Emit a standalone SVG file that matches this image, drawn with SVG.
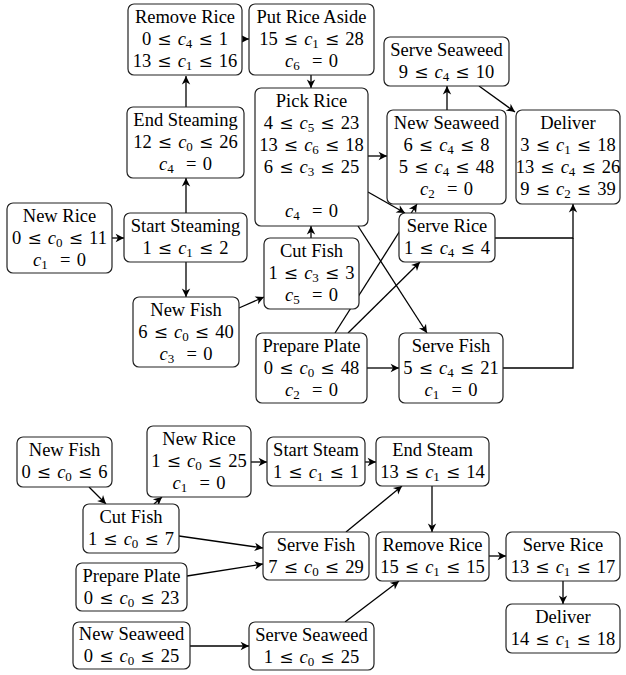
<svg xmlns="http://www.w3.org/2000/svg" width="626" height="675" viewBox="0 0 626 675">
<style>
.b{fill:#fff;stroke:#222;stroke-width:1.2}
.t{font-family:'Liberation Serif','Times New Roman',serif;font-size:18.5px;text-anchor:middle;fill:#000}
.m{word-spacing:1.5px}
.i{font-style:italic}
.s{font-size:13px}
.le{font-family:'DejaVu Serif',serif;font-size:17px}
.c{stroke:#000;stroke-width:1.3;fill:none}
</style>
<defs>
<marker id="a" markerUnits="userSpaceOnUse" markerWidth="12" markerHeight="12" viewBox="-8 -5 10 10" refX="0" refY="0" orient="auto">
<path d="M0,0 L-7,-3.5 L-5,0 L-7,3.5 Z" fill="#000"/>
</marker>
</defs>
<rect width="626" height="675" fill="#fff"/>

<g id="connectors">
<path class="c" d="M186,107 L186,76" marker-end="url(#a)"/>
<path class="c" d="M242,39 L249,39" marker-end="url(#a)"/>
<path class="c" d="M311,75 L311,88" marker-end="url(#a)"/>
<path class="c" d="M186,213 L186,178" marker-end="url(#a)"/>
<path class="c" d="M112,238 L124,238" marker-end="url(#a)"/>
<path class="c" d="M186,262 L186,297" marker-end="url(#a)"/>
<path class="c" d="M239,308 L264,297" marker-end="url(#a)"/>
<path class="c" d="M311,238 L311,226" marker-end="url(#a)"/>
<path class="c" d="M368,156 L387,156" marker-end="url(#a)"/>
<path class="c" d="M368,192 L405,213" marker-end="url(#a)"/>
<path class="c" d="M447,110 L447,86" marker-end="url(#a)"/>
<path class="c" d="M479,86 L515,112" marker-end="url(#a)"/>
<path class="c" d="M358,226 L427,333" marker-end="url(#a)"/>
<path class="c" d="M335,333 L417,204" marker-end="url(#a)"/>
<path class="c" d="M348,333 L420,262" marker-end="url(#a)"/>
<path class="c" d="M367,368 L399,368" marker-end="url(#a)"/>
<path class="c" d="M495,238 L573,238 L573,204" marker-end="url(#a)"/>
<path class="c" d="M503,368 L573,368 L573,238"/>

<path class="c" d="M89,487 L106,504" marker-end="url(#a)"/>
<path class="c" d="M154,504 L162,497" marker-end="url(#a)"/>
<path class="c" d="M251,462 L267,462" marker-end="url(#a)"/>
<path class="c" d="M365,462 L376,462" marker-end="url(#a)"/>
<path class="c" d="M179,536 L263,548" marker-end="url(#a)"/>
<path class="c" d="M187,576 L263,564" marker-end="url(#a)"/>
<path class="c" d="M346,532 L402,486" marker-end="url(#a)"/>
<path class="c" d="M432,486 L432,532" marker-end="url(#a)"/>
<path class="c" d="M190,646 L249,646" marker-end="url(#a)"/>
<path class="c" d="M345,622 L399,581" marker-end="url(#a)"/>
<path class="c" d="M489,556 L506,556" marker-end="url(#a)"/>
<path class="c" d="M563,581 L563,604" marker-end="url(#a)"/>
</g>

<g id="nodes">
<g id="t_remove_rice">
<rect class="b" x="128" y="4" width="114" height="71" rx="6"/>
<text class="t" x="185" y="23">Remove Rice</text>
<text class="t m" x="185" y="45">0 <tspan class="le">≤</tspan> <tspan class="i">c</tspan><tspan class="s" dy="3">4</tspan><tspan dy="-3"> <tspan class="le">≤</tspan> 1</tspan></text>
<text class="t m" x="185" y="67">13 <tspan class="le">≤</tspan> <tspan class="i">c</tspan><tspan class="s" dy="3">1</tspan><tspan dy="-3"> <tspan class="le">≤</tspan> 16</tspan></text>
</g>

<g id="t_put_rice_aside">
<rect class="b" x="249" y="4" width="125" height="71" rx="6"/>
<text class="t" x="311.5" y="23">Put Rice Aside</text>
<text class="t m" x="311.5" y="45">15 <tspan class="le">≤</tspan> <tspan class="i">c</tspan><tspan class="s" dy="3">1</tspan><tspan dy="-3"> <tspan class="le">≤</tspan> 28</tspan></text>
<text class="t m" x="311.5" y="67"><tspan class="i">c</tspan><tspan class="s" dy="3">6</tspan><tspan dy="-3"> &#160;= 0</tspan></text>
</g>

<g id="t_end_steaming">
<rect class="b" x="127" y="107" width="117" height="71" rx="6"/>
<text class="t" x="185.5" y="126">End Steaming</text>
<text class="t m" x="185.5" y="148">12 <tspan class="le">≤</tspan> <tspan class="i">c</tspan><tspan class="s" dy="3">0</tspan><tspan dy="-3"> <tspan class="le">≤</tspan> 26</tspan></text>
<text class="t m" x="185.5" y="170"><tspan class="i">c</tspan><tspan class="s" dy="3">4</tspan><tspan dy="-3"> &#160;= 0</tspan></text>
</g>

<g id="t_pick_rice">
<rect class="b" x="255" y="88" width="113" height="138" rx="6"/>
<text class="t" x="311.5" y="107">Pick Rice</text>
<text class="t m" x="311.5" y="129">4 <tspan class="le">≤</tspan> <tspan class="i">c</tspan><tspan class="s" dy="3">5</tspan><tspan dy="-3"> <tspan class="le">≤</tspan> 23</tspan></text>
<text class="t m" x="311.5" y="151">13 <tspan class="le">≤</tspan> <tspan class="i">c</tspan><tspan class="s" dy="3">6</tspan><tspan dy="-3"> <tspan class="le">≤</tspan> 18</tspan></text>
<text class="t m" x="311.5" y="173">6 <tspan class="le">≤</tspan> <tspan class="i">c</tspan><tspan class="s" dy="3">3</tspan><tspan dy="-3"> <tspan class="le">≤</tspan> 25</tspan></text>
<text class="t m" x="311.5" y="217"><tspan class="i">c</tspan><tspan class="s" dy="3">4</tspan><tspan dy="-3"> &#160;= 0</tspan></text>
</g>

<g id="t_serve_seaweed">
<rect class="b" x="384" y="37" width="125" height="49" rx="6"/>
<text class="t" x="446.5" y="56">Serve Seaweed</text>
<text class="t m" x="446.5" y="78">9 <tspan class="le">≤</tspan> <tspan class="i">c</tspan><tspan class="s" dy="3">4</tspan><tspan dy="-3"> <tspan class="le">≤</tspan> 10</tspan></text>
</g>

<g id="t_new_seaweed">
<rect class="b" x="387" y="110" width="119" height="94" rx="6"/>
<text class="t" x="446.5" y="129">New Seaweed</text>
<text class="t m" x="446.5" y="151">6 <tspan class="le">≤</tspan> <tspan class="i">c</tspan><tspan class="s" dy="3">4</tspan><tspan dy="-3"> <tspan class="le">≤</tspan> 8</tspan></text>
<text class="t m" x="446.5" y="173">5 <tspan class="le">≤</tspan> <tspan class="i">c</tspan><tspan class="s" dy="3">4</tspan><tspan dy="-3"> <tspan class="le">≤</tspan> 48</tspan></text>
<text class="t m" x="446.5" y="195"><tspan class="i">c</tspan><tspan class="s" dy="3">2</tspan><tspan dy="-3"> &#160;= 0</tspan></text>
</g>

<g id="t_deliver">
<rect class="b" x="516" y="110" width="104" height="94" rx="6"/>
<text class="t" x="568" y="129">Deliver</text>
<text class="t m" x="568" y="151">3 <tspan class="le">≤</tspan> <tspan class="i">c</tspan><tspan class="s" dy="3">1</tspan><tspan dy="-3"> <tspan class="le">≤</tspan> 18</tspan></text>
<text class="t m" x="568" y="173">13 <tspan class="le">≤</tspan> <tspan class="i">c</tspan><tspan class="s" dy="3">4</tspan><tspan dy="-3"> <tspan class="le">≤</tspan> 26</tspan></text>
<text class="t m" x="568" y="195">9 <tspan class="le">≤</tspan> <tspan class="i">c</tspan><tspan class="s" dy="3">2</tspan><tspan dy="-3"> <tspan class="le">≤</tspan> 39</tspan></text>
</g>

<g id="t_new_rice">
<rect class="b" x="7" y="203" width="105" height="70" rx="6"/>
<text class="t" x="59.5" y="222">New Rice</text>
<text class="t m" x="59.5" y="244">0 <tspan class="le">≤</tspan> <tspan class="i">c</tspan><tspan class="s" dy="3">0</tspan><tspan dy="-3"> <tspan class="le">≤</tspan> 11</tspan></text>
<text class="t m" x="59.5" y="266"><tspan class="i">c</tspan><tspan class="s" dy="3">1</tspan><tspan dy="-3"> &#160;= 0</tspan></text>
</g>

<g id="t_start_steaming">
<rect class="b" x="124" y="213" width="123" height="49" rx="6"/>
<text class="t" x="185.5" y="232">Start Steaming</text>
<text class="t m" x="185.5" y="254">1 <tspan class="le">≤</tspan> <tspan class="i">c</tspan><tspan class="s" dy="3">1</tspan><tspan dy="-3"> <tspan class="le">≤</tspan> 2</tspan></text>
</g>

<g id="t_new_fish">
<rect class="b" x="133" y="297" width="106" height="70" rx="6"/>
<text class="t" x="186" y="316">New Fish</text>
<text class="t m" x="186" y="338">6 <tspan class="le">≤</tspan> <tspan class="i">c</tspan><tspan class="s" dy="3">0</tspan><tspan dy="-3"> <tspan class="le">≤</tspan> 40</tspan></text>
<text class="t m" x="186" y="360"><tspan class="i">c</tspan><tspan class="s" dy="3">3</tspan><tspan dy="-3"> &#160;= 0</tspan></text>
</g>

<g id="t_cut_fish">
<rect class="b" x="264" y="238" width="95" height="71" rx="6"/>
<text class="t" x="311.5" y="257">Cut Fish</text>
<text class="t m" x="311.5" y="279">1 <tspan class="le">≤</tspan> <tspan class="i">c</tspan><tspan class="s" dy="3">3</tspan><tspan dy="-3"> <tspan class="le">≤</tspan> 3</tspan></text>
<text class="t m" x="311.5" y="301"><tspan class="i">c</tspan><tspan class="s" dy="3">5</tspan><tspan dy="-3"> &#160;= 0</tspan></text>
</g>

<g id="t_serve_rice">
<rect class="b" x="399" y="213" width="96" height="49" rx="6"/>
<text class="t" x="447" y="232">Serve Rice</text>
<text class="t m" x="447" y="254">1 <tspan class="le">≤</tspan> <tspan class="i">c</tspan><tspan class="s" dy="3">4</tspan><tspan dy="-3"> <tspan class="le">≤</tspan> 4</tspan></text>
</g>

<g id="t_prepare_plate">
<rect class="b" x="256" y="333" width="111" height="70" rx="6"/>
<text class="t" x="311.5" y="352">Prepare Plate</text>
<text class="t m" x="311.5" y="374">0 <tspan class="le">≤</tspan> <tspan class="i">c</tspan><tspan class="s" dy="3">0</tspan><tspan dy="-3"> <tspan class="le">≤</tspan> 48</tspan></text>
<text class="t m" x="311.5" y="396"><tspan class="i">c</tspan><tspan class="s" dy="3">2</tspan><tspan dy="-3"> &#160;= 0</tspan></text>
</g>

<g id="t_serve_fish">
<rect class="b" x="399" y="333" width="104" height="70" rx="6"/>
<text class="t" x="451" y="352">Serve Fish</text>
<text class="t m" x="451" y="374">5 <tspan class="le">≤</tspan> <tspan class="i">c</tspan><tspan class="s" dy="3">4</tspan><tspan dy="-3"> <tspan class="le">≤</tspan> 21</tspan></text>
<text class="t m" x="451" y="396"><tspan class="i">c</tspan><tspan class="s" dy="3">1</tspan><tspan dy="-3"> &#160;= 0</tspan></text>
</g>

<g id="b_new_fish">
<rect class="b" x="17" y="437" width="95" height="50" rx="6"/>
<text class="t" x="64.5" y="456">New Fish</text>
<text class="t m" x="64.5" y="478">0 <tspan class="le">≤</tspan> <tspan class="i">c</tspan><tspan class="s" dy="3">0</tspan><tspan dy="-3"> <tspan class="le">≤</tspan> 6</tspan></text>
</g>

<g id="b_new_rice">
<rect class="b" x="147" y="426" width="104" height="71" rx="6"/>
<text class="t" x="199" y="445">New Rice</text>
<text class="t m" x="199" y="467">1 <tspan class="le">≤</tspan> <tspan class="i">c</tspan><tspan class="s" dy="3">0</tspan><tspan dy="-3"> <tspan class="le">≤</tspan> 25</tspan></text>
<text class="t m" x="199" y="489"><tspan class="i">c</tspan><tspan class="s" dy="3">1</tspan><tspan dy="-3"> &#160;= 0</tspan></text>
</g>

<g id="b_start_steam">
<rect class="b" x="267" y="437" width="98" height="49" rx="6"/>
<text class="t" x="316" y="456">Start Steam</text>
<text class="t m" x="316" y="478">1 <tspan class="le">≤</tspan> <tspan class="i">c</tspan><tspan class="s" dy="3">1</tspan><tspan dy="-3"> <tspan class="le">≤</tspan> 1</tspan></text>
</g>

<g id="b_end_steam">
<rect class="b" x="376" y="437" width="113" height="49" rx="6"/>
<text class="t" x="432.5" y="456">End Steam</text>
<text class="t m" x="432.5" y="478">13 <tspan class="le">≤</tspan> <tspan class="i">c</tspan><tspan class="s" dy="3">1</tspan><tspan dy="-3"> <tspan class="le">≤</tspan> 14</tspan></text>
</g>

<g id="b_cut_fish">
<rect class="b" x="83" y="504" width="96" height="49" rx="6"/>
<text class="t" x="131" y="523">Cut Fish</text>
<text class="t m" x="131" y="545">1 <tspan class="le">≤</tspan> <tspan class="i">c</tspan><tspan class="s" dy="3">0</tspan><tspan dy="-3"> <tspan class="le">≤</tspan> 7</tspan></text>
</g>

<g id="b_serve_fish">
<rect class="b" x="263" y="532" width="106" height="48" rx="6"/>
<text class="t" x="316" y="551">Serve Fish</text>
<text class="t m" x="316" y="573">7 <tspan class="le">≤</tspan> <tspan class="i">c</tspan><tspan class="s" dy="3">0</tspan><tspan dy="-3"> <tspan class="le">≤</tspan> 29</tspan></text>
</g>

<g id="b_remove_rice">
<rect class="b" x="376" y="532" width="113" height="49" rx="6"/>
<text class="t" x="432.5" y="551">Remove Rice</text>
<text class="t m" x="432.5" y="573">15 <tspan class="le">≤</tspan> <tspan class="i">c</tspan><tspan class="s" dy="3">1</tspan><tspan dy="-3"> <tspan class="le">≤</tspan> 15</tspan></text>
</g>

<g id="b_serve_rice">
<rect class="b" x="506" y="532" width="114" height="49" rx="6"/>
<text class="t" x="563" y="551">Serve Rice</text>
<text class="t m" x="563" y="573">13 <tspan class="le">≤</tspan> <tspan class="i">c</tspan><tspan class="s" dy="3">1</tspan><tspan dy="-3"> <tspan class="le">≤</tspan> 17</tspan></text>
</g>

<g id="b_prepare_plate">
<rect class="b" x="76" y="563" width="111" height="48" rx="6"/>
<text class="t" x="131.5" y="582">Prepare Plate</text>
<text class="t m" x="131.5" y="604">0 <tspan class="le">≤</tspan> <tspan class="i">c</tspan><tspan class="s" dy="3">0</tspan><tspan dy="-3"> <tspan class="le">≤</tspan> 23</tspan></text>
</g>

<g id="b_deliver">
<rect class="b" x="506" y="604" width="114" height="49" rx="6"/>
<text class="t" x="563" y="623">Deliver</text>
<text class="t m" x="563" y="645">14 <tspan class="le">≤</tspan> <tspan class="i">c</tspan><tspan class="s" dy="3">1</tspan><tspan dy="-3"> <tspan class="le">≤</tspan> 18</tspan></text>
</g>

<g id="b_new_seaweed">
<rect class="b" x="73" y="622" width="117" height="47" rx="6"/>
<text class="t" x="131.5" y="640">New Seaweed</text>
<text class="t m" x="131.5" y="662">0 <tspan class="le">≤</tspan> <tspan class="i">c</tspan><tspan class="s" dy="3">0</tspan><tspan dy="-3"> <tspan class="le">≤</tspan> 25</tspan></text>
</g>

<g id="b_serve_seaweed">
<rect class="b" x="249" y="622" width="125" height="48" rx="6"/>
<text class="t" x="311.5" y="641">Serve Seaweed</text>
<text class="t m" x="311.5" y="663">1 <tspan class="le">≤</tspan> <tspan class="i">c</tspan><tspan class="s" dy="3">0</tspan><tspan dy="-3"> <tspan class="le">≤</tspan> 25</tspan></text>
</g>
</g>
</svg>
